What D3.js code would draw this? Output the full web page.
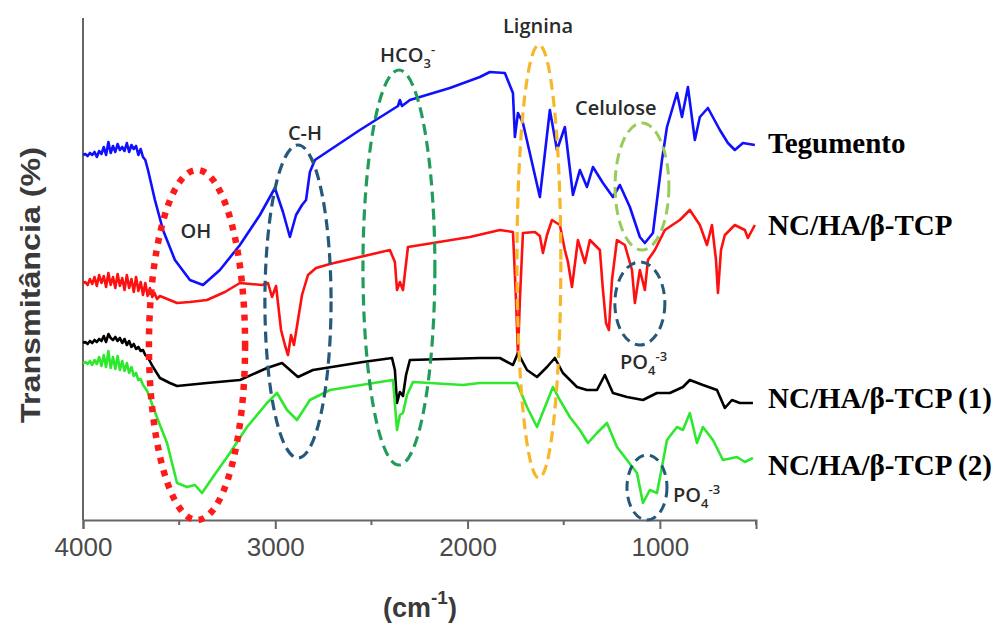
<!DOCTYPE html>
<html>
<head>
<meta charset="utf-8">
<script src="https://cdn.jsdelivr.net/npm/d3@7"></script>
<style>
  body { margin: 0; background: #fff; }
  svg { display: block; }
</style>
</head>
<body>
<svg width="999" height="623"></svg>
<script>
// FTIR spectra: wavenumber (cm-1), transmittance (arbitrary %)
const tegumento = [
  [4000, 73], [3988, 73.2], [3976, 72.8], [3964, 73.4], [3952, 73], [3940, 73.6], [3928, 72.6],
  [3916, 73.8], [3904, 73.2], [3892, 74.6], [3880, 73], [3868, 75.6], [3856, 73.4], [3844, 74.8],
  [3832, 73.6], [3820, 75.2], [3808, 74], [3796, 74.6], [3784, 73.8], [3772, 75.4], [3760, 73.6],
  [3748, 75], [3736, 74.2], [3724, 74.8], [3712, 73], [3700, 74.2], [3688, 72.6], [3676, 72],
  [3662, 70], [3626, 64], [3584, 58], [3522, 52], [3444, 48], [3376, 47], [3288, 50],
  [3184, 55], [3080, 61], [3002, 66.4], [2960, 61.6], [2924, 56.6], [2892, 61], [2861, 63],
  [2840, 64], [2820, 69.6], [2794, 72], [2560, 78], [2362, 82.8], [2352, 84], [2341, 82.8],
  [2300, 84], [2092, 86.4], [1936, 88.6], [1884, 89.6], [1806, 89.4], [1764, 85.4],
  [1754, 76.6], [1738, 81.4], [1712, 79.4], [1624, 64.6], [1572, 82], [1535, 74], [1494, 78.6],
  [1452, 65], [1416, 70], [1379, 66.6], [1348, 70.6], [1296, 67.4], [1244, 64.6], [1208, 67],
  [1156, 62.6], [1104, 56.6], [1078, 55.4], [1036, 57.4], [989, 72], [963, 78.6], [911, 85.4],
  [885, 80.6], [854, 86.6], [818, 76], [792, 80.6], [750, 82.4], [688, 78], [646, 75.4],
  [610, 74], [568, 75.4], [506, 75]
];

const ncHaTcp = [
  [4000, 47.4], [3988, 47.6], [3976, 47], [3964, 48.2], [3952, 47.2], [3940, 48.6], [3928, 46.8],
  [3916, 49], [3904, 47.4], [3892, 48.8], [3880, 46.6], [3868, 49.4], [3856, 47], [3844, 48.6],
  [3832, 46.4], [3820, 49.2], [3808, 46.8], [3796, 48.4], [3784, 46], [3772, 49], [3760, 46.4],
  [3748, 48.2], [3736, 45.6], [3724, 48.6], [3712, 45.8], [3700, 47.6], [3688, 45], [3676, 47.4],
  [3664, 44.8], [3652, 46.4], [3640, 44.6], [3628, 45.4], [3615, 44.2], [3600, 44.8],
  [3574, 44.4], [3511, 43.4], [3444, 43.6], [3355, 44], [3262, 45.6],
  [3184, 47.4], [3069, 47], [3038, 47.4], [3017, 44.6], [2996, 46.8], [2970, 38], [2950, 35],
  [2934, 33], [2918, 37], [2903, 35], [2882, 40], [2861, 45], [2830, 49], [2788, 50.4],
  [2716, 51.2], [2404, 54], [2378, 51.6], [2367, 46], [2352, 47.6], [2336, 46], [2310, 54.6],
  [2180, 55.4], [1988, 56.6], [1832, 58], [1764, 57.6], [1748, 44], [1738, 33], [1728, 44],
  [1712, 57.4], [1650, 57.6], [1624, 56.8], [1608, 53.4], [1587, 57], [1561, 60], [1520, 59],
  [1494, 54], [1478, 51.6], [1457, 46.6], [1426, 56], [1390, 51.4], [1364, 56], [1312, 54],
  [1296, 46], [1280, 39.4], [1265, 38], [1249, 48], [1223, 56], [1182, 55], [1145, 50],
  [1130, 43.4], [1104, 50], [1078, 46], [1062, 52], [1026, 54], [974, 58], [896, 60], [844, 62],
  [792, 59], [755, 55], [729, 59], [708, 52], [698, 45.4], [682, 54], [662, 57], [610, 59],
  [558, 58], [542, 56.4], [506, 59]
];

const ncHaTcp1 = [
  [4000, 35.4], [3988, 35.6], [3976, 35.2], [3964, 35.8], [3952, 35.4], [3940, 36], [3928, 35.6],
  [3916, 36.2], [3904, 35.8], [3892, 36.8], [3880, 35.6], [3868, 37.2], [3856, 36.4], [3844, 36],
  [3832, 36.6], [3820, 35.8], [3808, 36.4], [3796, 35.4], [3784, 36.2], [3772, 35], [3760, 35.8],
  [3748, 34.6], [3736, 35.2], [3724, 34.2], [3712, 34.6], [3700, 33.8], [3688, 34], [3676, 33],
  [3664, 32.6], [3650, 31.6], [3636, 30.6],
  [3600, 28.4], [3548, 27.4], [3511, 26.8], [3355, 27.4], [3184, 28], [3043, 30.4], [2965, 31.4],
  [2882, 28.6], [2804, 30], [2544, 31.6], [2393, 32.4], [2378, 30], [2367, 23.4], [2352, 25.6],
  [2336, 24.8], [2320, 29], [2300, 32], [1936, 32.4], [1832, 32.4], [1764, 31], [1738, 33.4],
  [1691, 30], [1639, 28.6], [1587, 30.6], [1546, 32.4], [1504, 29.4], [1431, 26.6], [1379, 26],
  [1327, 26], [1286, 29], [1244, 25.4], [1171, 24.6], [1088, 24], [1015, 25.4], [948, 25.4],
  [880, 26.6], [844, 28], [776, 27], [703, 26], [662, 22.4], [625, 24], [584, 23.4], [516, 23.4]
];

const ncHaTcp2 = [
  [4000, 31.4], [3988, 31.6], [3976, 31.2], [3964, 31.8], [3952, 31], [3940, 32], [3928, 31.2],
  [3916, 32.6], [3904, 30.8], [3892, 33], [3880, 30.6], [3868, 33.8], [3856, 30.4], [3844, 32.6],
  [3832, 30.2], [3820, 32.8], [3808, 30], [3796, 31.8], [3784, 29.8], [3772, 31.4], [3760, 29.4],
  [3748, 30.6], [3736, 28.8], [3724, 29.4], [3712, 28], [3700, 28.2], [3688, 27], [3676, 26.4],
  [3664, 25.6], [3650, 24.2], [3636, 22.6],
  [3600, 19], [3563, 15.4], [3511, 7.4], [3459, 6.6], [3418, 7], [3381, 5.4],
  [3324, 8.6], [3236, 13.4], [3147, 18.6], [3043, 23.4], [2991, 25.4], [2939, 22], [2887, 20],
  [2820, 24], [2716, 26], [2456, 27.6], [2388, 28], [2367, 18], [2352, 21], [2336, 21.4],
  [2315, 25], [2284, 27.6], [2024, 27], [1936, 27.4], [1816, 27.4], [1743, 27.4], [1691, 22.6],
  [1639, 18.6], [1556, 26.6], [1520, 24], [1468, 20.6], [1416, 18], [1374, 15.4], [1327, 17.4],
  [1275, 19.4], [1223, 14.6], [1171, 12], [1119, 9.4], [1088, 3.4], [1052, 6], [1015, 5.4],
  [989, 10.6], [963, 16], [911, 18.6], [880, 18], [844, 21.4], [807, 15.4], [776, 18.6],
  [724, 16], [672, 12], [599, 12.6], [558, 11.6], [516, 12.4]
];

const seriesNames = ['Tegumento', 'NC/HA/β-TCP', 'NC/HA/β-TCP (1)', 'NC/HA/β-TCP (2)'];
const seriesData = [tegumento, ncHaTcp, ncHaTcp1, ncHaTcp2];
const seriesColors = ['#1010ff', '#ff1010', '#000000', '#2de82d'];

// band groups marked by ellipses: centre wavenumber, half width (cm-1), centre T, half height
const bandNames = ['OH', 'C-H', 'HCO3', 'Lignina', 'Celulose', 'PO4a', 'PO4b'];
const bandCenters = [3407, 2882, 2357, 1629, 1093, 1104, 1067];
const bandHalfWidths = [250, 172, 187, 114, 140, 130, 104];
const bandLevels = [35, 43.7, 50.5, 51.7, 66.7, 43.3, 6.5];
const bandHalfHeights = [35, 31.3, 39.5, 43.3, 12.7, 8.3, 6.5];

const majorTicks = [4000, 3000, 2000, 1000];
const minorTicks = [3500, 2500, 1500, 500];

const svg = d3.select('svg');
const x0 = 83, x1 = 756, yTop = 18, yBottom = 520;

const xScale = d3.scaleLinear().domain([4000, 500]).range([x0, x1]);
const yScale = d3.scaleLinear().domain([0, 100]).range([yBottom, 20]);

// axes
svg.append('line')
  .attr('x1', x0).attr('x2', x0).attr('y1', yTop).attr('y2', yBottom)
  .attr('stroke', '#666').attr('stroke-width', 2);

const xAxis = d3.axisBottom(xScale)
  .tickValues(majorTicks)
  .tickSize(9)
  .tickPadding(9)
  .tickFormat(d3.format('d'));

const gx = svg.append('g')
  .attr('transform', `translate(0,${yBottom})`)
  .call(xAxis);
gx.select('.domain').attr('stroke', '#666').attr('stroke-width', 2);
gx.selectAll('.tick line').attr('stroke', '#666').attr('stroke-width', 2);
gx.selectAll('.tick text')
  .attr('fill', '#4a4a4a')
  .style('font-family', 'Liberation Sans, Arial, sans-serif')
  .style('font-size', '26px');

svg.append('g')
  .selectAll('line')
  .data(minorTicks)
  .join('line')
  .attr('x1', d => xScale(d)).attr('x2', d => xScale(d))
  .attr('y1', yBottom).attr('y2', yBottom + 5)
  .attr('stroke', '#666').attr('stroke-width', 2);

// spectra
const line = d3.line()
  .x(d => xScale(d[0]))
  .y(d => yScale(d[1]));

svg.append('g')
  .selectAll('path')
  .data(seriesData)
  .join('path')
  .attr('d', line)
  .attr('fill', 'none')
  .attr('stroke', (d, i) => seriesColors[i])
  .attr('stroke-width', 2.6)
  .attr('stroke-linejoin', 'round');

// ellipses
const bandStroke = ['#ff1a1a', '#25587a', '#229c5a', '#f7b728', '#98cc5a', '#25587a', '#25587a'];
const bandDash = ['6,7', '11,6', '11,6', '11,6', '11,6', '10,6', '10,6'];
const bandWidth = [6.5, 3.2, 3.2, 3.2, 3, 3, 3];

svg.append('g')
  .selectAll('ellipse')
  .data(bandNames)
  .join('ellipse')
  .attr('cx', (d, i) => xScale(bandCenters[i]))
  .attr('cy', (d, i) => yScale(bandLevels[i]))
  .attr('rx', (d, i) => xScale(bandCenters[i] - bandHalfWidths[i]) - xScale(bandCenters[i]))
  .attr('ry', (d, i) => yScale(0) - yScale(bandHalfHeights[i]))
  .attr('fill', 'none')
  .attr('stroke', (d, i) => bandStroke[i])
  .attr('stroke-width', (d, i) => bandWidth[i])
  .attr('stroke-dasharray', (d, i) => bandDash[i]);

// annotation labels
const ann = svg.append('g')
  .style('font-family', 'Open Sans, Liberation Sans, sans-serif')
  .style('font-size', '20px')
  .style('font-weight', 600)
  .attr('fill', '#2b2b2b');

ann.append('text').attr('x', 196).attr('y', 238).attr('text-anchor', 'middle').text('OH');
ann.append('text').attr('x', 305).attr('y', 140).attr('text-anchor', 'middle').text('C-H');
const hco = ann.append('text').attr('x', 380).attr('y', 62);
hco.append('tspan').text('HCO');
hco.append('tspan').attr('dy', 6).style('font-size', '13px').text('3');
hco.append('tspan').attr('dy', -14).style('font-size', '13px').text('-');
ann.append('text').attr('x', 503).attr('y', 33).text('Lignina');
ann.append('text').attr('x', 575).attr('y', 115).text('Celulose');

function po4(x, y) {
  const t = ann.append('text').attr('x', x).attr('y', y);
  t.append('tspan').text('PO');
  t.append('tspan').attr('dy', 6).style('font-size', '13px').text('4');
  t.append('tspan').attr('dy', -14).style('font-size', '13px').text('-3');
}
po4(620, 369);
po4(673, 502);

// series names at the right
const legendY = [153, 235, 408, 475];
svg.append('g')
  .selectAll('text')
  .data(seriesNames)
  .join('text')
  .attr('x', 768)
  .attr('y', (d, i) => legendY[i])
  .style('font-family', 'Liberation Serif, Times New Roman, serif')
  .style('font-weight', 'bold')
  .style('font-size', '29px')
  .attr('fill', '#000')
  .text(d => d);

// axis titles
svg.append('text')
  .attr('transform', 'translate(40,285) rotate(-90)')
  .attr('text-anchor', 'middle')
  .attr('textLength', 276)
  .attr('lengthAdjust', 'spacingAndGlyphs')
  .style('font-family', 'Liberation Sans, Arial, sans-serif')
  .style('font-weight', 'bold')
  .style('font-size', '28px')
  .attr('fill', '#3a3a3a')
  .text('Transmitância (%)');

const xt = svg.append('text')
  .attr('x', 383).attr('y', 617)
  .style('font-family', 'Liberation Sans, Arial, sans-serif')
  .style('font-weight', 'bold')
  .style('font-size', '27px')
  .attr('fill', '#3a3a3a');
xt.append('tspan').text('(cm');
xt.append('tspan').attr('dy', -13).style('font-size', '19px').text('-1');
xt.append('tspan').attr('dy', 13).text(')');
</script>
</body>
</html>
